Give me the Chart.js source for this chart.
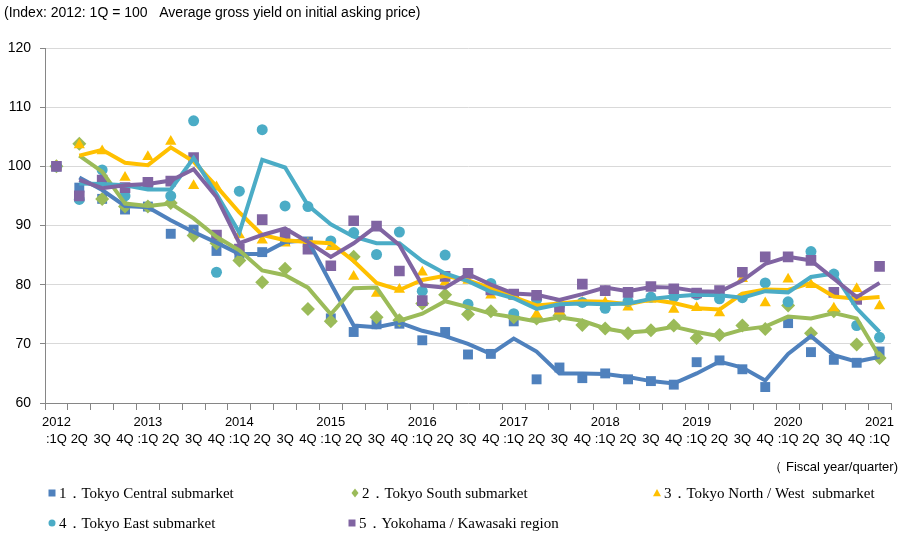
<!DOCTYPE html>
<html>
<head>
<meta charset="utf-8">
<script src="https://cdn.jsdelivr.net/npm/chart.js@4.4.1/dist/chart.umd.min.js"></script>
<style>
  html, body { margin: 0; padding: 0; background: #fff; }
  #wrap { width: 924px; height: 541px; }
</style>
</head>
<body>
<div id="wrap"><canvas id="yieldChart" width="924" height="541"></canvas></div>
<script>
// tick labels
const fiscalYears = ["2012", "2013", "2014", "2015", "2016", "2017", "2018", "2019", "2020", "2021"];
const quarterNames = [":1Q", "2Q", "3Q", "4Q"];

// quarterly index values (markers), 2012:1Q .. 2021:1Q
const centralPts = [100, 96.4, 94.5, 92.7, 93.2, 88.6, 89.3, 85.7, 85.2, 85.5, 87.5, 87.3, 74.3, 72.0, 73.3, 73.4, 70.6, 72.0, 68.2, 68.3, 73.8, 64.0, 66.0, 64.2, 65.0, 64.0, 63.7, 63.1, 66.9, 67.2, 65.7, 62.7, 73.5, 68.6, 67.3, 66.8, 68.7];
const southPts = [100, 103.8, 94.5, 93.2, 93.2, 93.8, 88.3, 87.0, 84.1, 80.4, 82.7, 75.9, 73.8, 84.7, 74.5, 74.0, 76.8, 78.3, 75.0, 75.5, 74.5, 74.3, 74.8, 73.2, 72.6, 71.8, 72.3, 73.1, 71.0, 71.5, 73.1, 72.5, 76.5, 71.8, 75.5, 69.9, 67.6];
const northPts = [100, 103.6, 102.6, 98.1, 101.6, 104.2, 96.7, 96.5, 88.4, 87.5, 87.0, 87.0, 86.4, 81.4, 78.5, 79.2, 82.1, 80.4, 80.7, 78.2, 78.0, 75.0, 75.5, 77.0, 77.0, 76.2, 77.5, 75.8, 76.1, 75.2, 81.0, 76.9, 80.9, 80.0, 76.0, 79.3, 76.4];
const eastPts = [100, 94.4, 99.4, 95.0, 96.8, 95.0, 107.7, 82.1, 95.8, 106.2, 93.3, 93.2, 87.4, 88.8, 85.1, 88.9, 78.9, 85.0, 76.7, 80.2, 75.1, 77.5, 76.5, 77.0, 76.0, 77.2, 77.9, 77.9, 78.3, 77.6, 77.8, 80.3, 77.1, 85.6, 81.8, 73.1, 71.1];
const yokoPts = [100, 95.0, 97.7, 96.4, 97.3, 97.5, 101.5, 88.4, 86.0, 91.0, 88.6, 86.0, 83.2, 90.8, 89.9, 82.3, 77.3, 81.4, 81.9, 79.1, 78.4, 78.2, 76.2, 80.1, 79.0, 78.7, 79.7, 79.3, 78.6, 79.0, 82.1, 84.7, 84.7, 84.1, 78.7, 77.5, 83.1];

// trend lines (start at 2012:2Q)
const centralLine = [null, 98.1, 96.0, 93.3, 93.1, 90.9, 88.9, 87.1, 85.2, 85.2, 87.2, 87.5, 80.2, 73.1, 72.8, 73.6, 72.2, 71.3, 70.0, 68.3, 70.9, 68.7, 65.0, 65.0, 64.9, 64.4, 63.7, 63.3, 65.0, 67.0, 66.0, 63.8, 68.3, 71.3, 68.1, 67.0, 67.8];
const southLine = [null, 101.8, 99.1, 93.7, 93.3, 93.7, 91.2, 88.1, 85.8, 82.4, 81.6, 79.5, 75.0, 79.4, 79.5, 73.9, 75.1, 77.2, 76.2, 75.1, 74.5, 73.8, 74.5, 73.9, 72.6, 71.9, 72.2, 72.9, 72.0, 71.3, 72.4, 72.9, 74.6, 74.3, 75.2, 74.3, 67.8];
const northLine = [null, 101.8, 102.8, 100.6, 100.2, 103.2, 100.8, 96.6, 92.2, 88.4, 87.5, 87.2, 87.0, 84.0, 80.3, 79.1, 80.8, 81.5, 80.7, 79.4, 77.9, 76.5, 76.8, 77.2, 77.1, 76.7, 77.5, 76.9, 76.0, 75.8, 78.5, 79.2, 79.1, 80.3, 78.0, 77.6, 77.9];
const eastLine = [null, 97.1, 97.0, 96.8, 96.1, 96.1, 101.4, 95.3, 88.8, 101.1, 99.8, 93.4, 90.2, 88.1, 87.0, 87.0, 84.0, 81.9, 80.6, 78.8, 77.7, 75.9, 76.7, 76.8, 76.7, 76.8, 77.6, 78.0, 78.3, 78.2, 77.8, 78.9, 78.7, 81.3, 81.9, 76.0, 72.0];
const yokoLine = [null, 97.7, 96.3, 96.8, 97.0, 97.6, 99.5, 94.8, 87.0, 88.4, 89.5, 87.2, 84.7, 87.0, 89.9, 86.7, 79.9, 79.5, 81.8, 80.0, 78.5, 78.3, 77.4, 78.4, 79.5, 78.9, 79.6, 79.5, 78.9, 78.8, 80.7, 83.5, 84.7, 84.1, 81.0, 77.9, 80.3];

const seriesNames = [
  "1．Tokyo Central submarket",
  "2．Tokyo South submarket",
  "3．Tokyo North / West  submarket",
  "4．Tokyo East submarket",
  "5．Yokohama / Kawasaki region",
];
const seriesColors = ["#4F81BD", "#9BBB59", "#FFC000", "#4BACC6", "#8064A2"];
const seriesShapes = ["rect", "rectRot", "triangle", "circle", "rect"];
const markerSizes = [7, 7, 6.5, 5.5, 7.5];

// build the quarter labels (2 lines: year / quarter)
const labels = [];
fiscalYears.forEach((yr, y) => {
  quarterNames.forEach((q, k) => {
    if (y === fiscalYears.length - 1 && k > 0) return;
    labels.push([k === 0 ? yr : "", q]);
  });
});

const narrowFont = '"Liberation Sans Narrow", "Arial Narrow", "Liberation Sans", Arial, sans-serif';

// marker datasets
const pointSets = [centralPts, southPts, northPts, eastPts, yokoPts].map((data, i) => ({
  label: seriesNames[i],
  data,
  showLine: false,
  pointStyle: seriesShapes[i],
  pointRadius: markerSizes[i],
  pointBackgroundColor: seriesColors[i],
  pointBorderColor: seriesColors[i],
  pointBorderWidth: 0,
  order: 10 - i,
}));

// trend line datasets
const lineSets = [centralLine, southLine, northLine, eastLine, yokoLine].map((data, i) => ({
  label: seriesNames[i] + " trend",
  data,
  borderColor: seriesColors[i],
  borderWidth: 4,
  pointRadius: 0,
  tension: 0,
  fill: false,
  spanGaps: false,
  order: 5 - i,
}));

// function:: small legend marker
function drawMarker(ctx, shape, x, y, r, color) {
  ctx.fillStyle = color;
  ctx.beginPath();
  if (shape === "rect") {
    ctx.rect(x - r, y - r, 2 * r, 2 * r);
  } else if (shape === "rectRot") {
    ctx.moveTo(x, y - r - 1);
    ctx.lineTo(x + r, y);
    ctx.lineTo(x, y + r + 1);
    ctx.lineTo(x - r, y);
    ctx.closePath();
  } else if (shape === "triangle") {
    ctx.moveTo(x, y - r - 0.5);
    ctx.lineTo(x + r + 0.5, y + r * 0.9);
    ctx.lineTo(x - r - 0.5, y + r * 0.9);
    ctx.closePath();
  } else {
    ctx.arc(x, y, r, 0, Math.PI * 2);
  }
  ctx.fill();
}

// plugin:: header, axis caption and legend
const extraText = {
  id: "extraText",
  afterDraw(chart) {
    const ctx = chart.ctx;
    ctx.save();
    ctx.fillStyle = "#000";
    ctx.textBaseline = "middle";
    ctx.font = '14px "Liberation Sans", Arial, sans-serif';
    ctx.fillText("(Index: 2012: 1Q = 100   Average gross yield on initial asking price)", 4, 13);

    ctx.textAlign = "right";
    ctx.font = "13px " + narrowFont;
    ctx.fillText("（ Fiscal year/quarter)", 898, 467);

    const spots = [[52, 493], [355, 493], [657, 493], [52, 523], [352, 523]];
    ctx.textAlign = "left";
    ctx.font = '15px "Liberation Serif", "Times New Roman", serif';
    spots.forEach(([x, y], i) => {
      drawMarker(ctx, seriesShapes[i], x, y, 3.5, seriesColors[i]);
      ctx.fillStyle = "#000";
      ctx.fillText(seriesNames[i], x + 7, y + 1);
    });
    ctx.restore();
  },
};

new Chart(document.getElementById("yieldChart"), {
  type: "line",
  data: { labels, datasets: [...pointSets, ...lineSets] },
  options: {
    responsive: false,
    animation: false,
    layout: { padding: { top: 48, right: 33, bottom: 88, left: 0 } },
    plugins: { legend: { display: false }, tooltip: { enabled: false } },
    scales: {
      x: {
        type: "category",
        offset: true,
        grid: { offset: true, drawOnChartArea: false, tickLength: 7, tickColor: "#868686", color: "#868686" },
        border: { color: "#868686", width: 1 },
        ticks: {
          autoSkip: false,
          maxRotation: 0,
          minRotation: 0,
          padding: 4,
          color: "#000",
          font: { family: narrowFont, size: 13, lineHeight: 1.3 },
        },
        afterFit(scale) { scale.height = 50; },
      },
      y: {
        min: 60,
        max: 120,
        ticks: { stepSize: 10, padding: 9, color: "#000", font: { family: '"Liberation Sans", Arial, sans-serif', size: 14 } },
        grid: { color: "#d9d9d9", tickColor: "#868686", tickLength: 5 },
        border: { color: "#868686", width: 1 },
        afterFit(scale) { scale.width = 45; },
      },
    },
  },
  plugins: [extraText],
});
</script>
</body>
</html>
